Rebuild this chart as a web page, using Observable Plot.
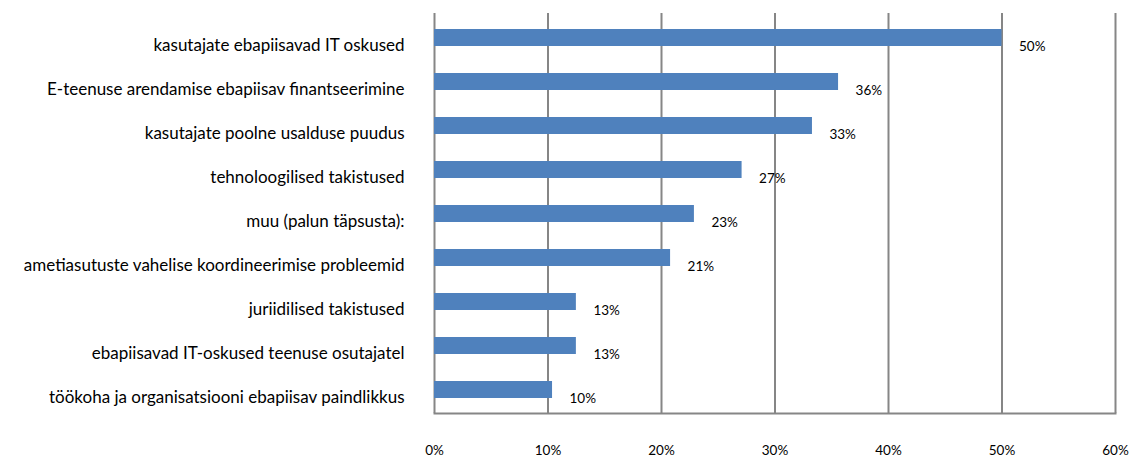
<!DOCTYPE html>
<html>
<head>
<meta charset="utf-8">
<script src="https://cdn.jsdelivr.net/npm/d3@7"></script>
<script src="https://cdn.jsdelivr.net/npm/@observablehq/plot@0.6"></script>
<style>
  html, body { margin: 0; padding: 0; background: #fff; }
  #chart svg { display: block; }
</style>
</head>
<body>
<div id="chart"></div>
<script>
const categories = [
  "kasutajate ebapiisavad IT oskused",
  "E-teenuse arendamise ebapiisav finantseerimine",
  "kasutajate poolne usalduse puudus",
  "tehnoloogilised takistused",
  "muu (palun täpsusta):",
  "ametiasutuste vahelise koordineerimise probleemid",
  "juriidilised takistused",
  "ebapiisavad IT-oskused teenuse osutajatel",
  "töökoha ja organisatsiooni ebapiisav paindlikkus"
];
const values = [50, 35.6, 33.3, 27.1, 22.9, 20.8, 12.5, 12.5, 10.4];
const valueLabels = ["50%", "36%", "33%", "27%", "23%", "21%", "13%", "13%", "10%"];
const xTicks = [0, 10, 20, 30, 40, 50, 60];

const data = categories.map((c, i) => ({category: c, value: values[i], label: valueLabels[i]}));

const chart = Plot.plot({
  width: 1136,
  height: 459,
  marginLeft: 434,
  marginRight: 21,
  marginTop: 13,
  marginBottom: 46,
  style: {fontFamily: "Lato, sans-serif", color: "#000", background: "#fff"},
  x: {domain: [0, 60], label: null},
  y: {domain: categories, paddingInner: 0.62, paddingOuter: 0.31, label: null},
  marks: [
    Plot.ruleX(xTicks, {stroke: "#868686", strokeWidth: 2, strokeOpacity: 1}),
    Plot.frame({anchor: "bottom", stroke: "#868686", strokeWidth: 2}),
    Plot.barX(data, {x: "value", y: "category", fill: "#4F81BD"}),
    Plot.text(data, {x: "value", y: "category", text: "label", textAnchor: "start", dx: 17, dy: 9, fontSize: 13.5, fill: "#000"}),
    Plot.axisY({tickSize: 0, tickPadding: 30, fontSize: 17, dy: 8, fill: "#000"}),
    Plot.axisX({ticks: xTicks, tickFormat: d => d + "%", tickSize: 0, tickPadding: 32, fontSize: 13.5, fill: "#000"})
  ]
});
document.getElementById("chart").appendChild(chart);
</script>
</body>
</html>
